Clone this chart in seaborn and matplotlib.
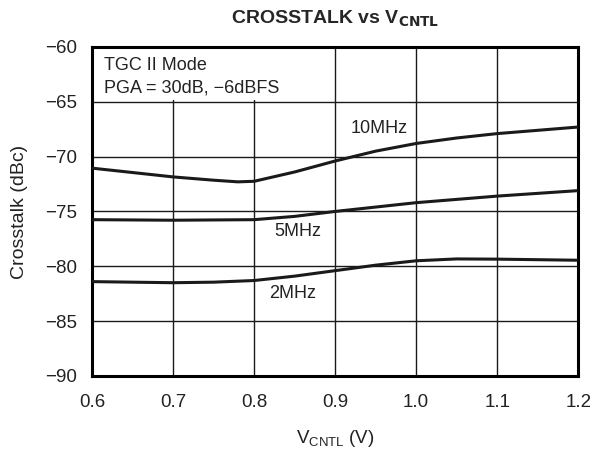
import numpy as np
import pandas as pd
import matplotlib
matplotlib.use("Agg")
import matplotlib.pyplot as plt
import seaborn as sns
from matplotlib.patches import Rectangle

# Datos
v_10 = [0.60, 0.65, 0.70, 0.75, 0.78, 0.80, 0.85, 0.90, 0.95, 1.00, 1.05, 1.10, 1.15, 1.20]
xt_10 = [-71.05, -71.45, -71.85, -72.15, -72.3, -72.25, -71.4, -70.4, -69.5, -68.8, -68.3, -67.9, -67.6, -67.3]

v_5 = [0.60, 0.70, 0.80, 0.85, 0.90, 0.95, 1.00, 1.05, 1.10, 1.15, 1.20]
xt_5 = [-75.75, -75.8, -75.75, -75.45, -75.0, -74.6, -74.2, -73.9, -73.6, -73.35, -73.1]

v_2 = [0.60, 0.70, 0.75, 0.80, 0.85, 0.90, 0.95, 1.00, 1.05, 1.10, 1.15, 1.20]
xt_2 = [-81.4, -81.5, -81.45, -81.3, -80.9, -80.4, -79.9, -79.5, -79.33, -79.35, -79.4, -79.45]

x_ticks = [0.6, 0.7, 0.8, 0.9, 1.0, 1.1, 1.2]
y_ticks = [-90, -85, -80, -75, -70, -65, -60]

etiquetas = {"10MHz": (0.919, -67.45), "5MHz": (0.825, -76.85), "2MHz": (0.819, -82.5)}

df = pd.concat([
    pd.DataFrame({"vcntl": v_10, "crosstalk": xt_10, "freq": "10MHz"}),
    pd.DataFrame({"vcntl": v_5, "crosstalk": xt_5, "freq": "5MHz"}),
    pd.DataFrame({"vcntl": v_2, "crosstalk": xt_2, "freq": "2MHz"}),
])

sns.set_style("white")
plt.rcParams["font.family"] = ["Liberation Sans", "DejaVu Sans"]

gris = "#222222"
fig = plt.figure(figsize=(5.9, 4.54), dpi=100)
ax = fig.add_axes([0.156, 0.172, 0.824, 0.7245])

sns.lineplot(data=df, x="vcntl", y="crosstalk", hue="freq", sort=False,
             palette=["#1a1a1a"] * 3, linewidth=2.2, legend=False, ax=ax, zorder=3)

ax.set_xlim(0.6, 1.2)
ax.set_ylim(-90, -60)
ax.set_xticks(x_ticks)
ax.set_yticks(y_ticks)
ax.set_xticklabels([f"{t:.1f}" for t in x_ticks], fontsize=13.5, color=gris)
ax.set_yticklabels([f"\u2212{abs(t)}" for t in y_ticks], fontsize=13.5, color=gris)
ax.tick_params(axis="x", length=0, pad=13)
ax.tick_params(axis="y", length=0, pad=11)
ax.grid(True, color="#1a1a1a", linewidth=1.0)
ax.set_axisbelow(True)
for s in ax.spines.values():
    s.set_visible(True)
    s.set_color("black")
    s.set_linewidth(2.2)

# caja blanca con la anotación
ax.add_patch(Rectangle((0.6, -64.85), 0.245, 4.85, facecolor="white", edgecolor="none", zorder=2))
ax.text(0.615, -61.7, "TGC II Mode", fontsize=13, color=gris, va="center", zorder=4)
ax.text(0.615, -63.75, "PGA = 30dB, \u22126dBFS", fontsize=13, color=gris, va="center", zorder=4)

for nombre, (x, y) in etiquetas.items():
    ax.text(x, y, nombre, fontsize=13, color=gris, va="center", ha="left", zorder=4)

ax.set_xlabel(r"V$_{\mathregular{CNTL}}$ (V)", fontsize=13.5, color=gris, labelpad=12)
ax.set_ylabel("Crosstalk (dBc)", fontsize=14, color=gris, labelpad=12)
ax.set_title(r"CROSSTALK vs V$_{\mathbf{CNTL}}$", fontsize=14, fontweight="bold", pad=17)

fig.savefig("out.png", dpi=100)
